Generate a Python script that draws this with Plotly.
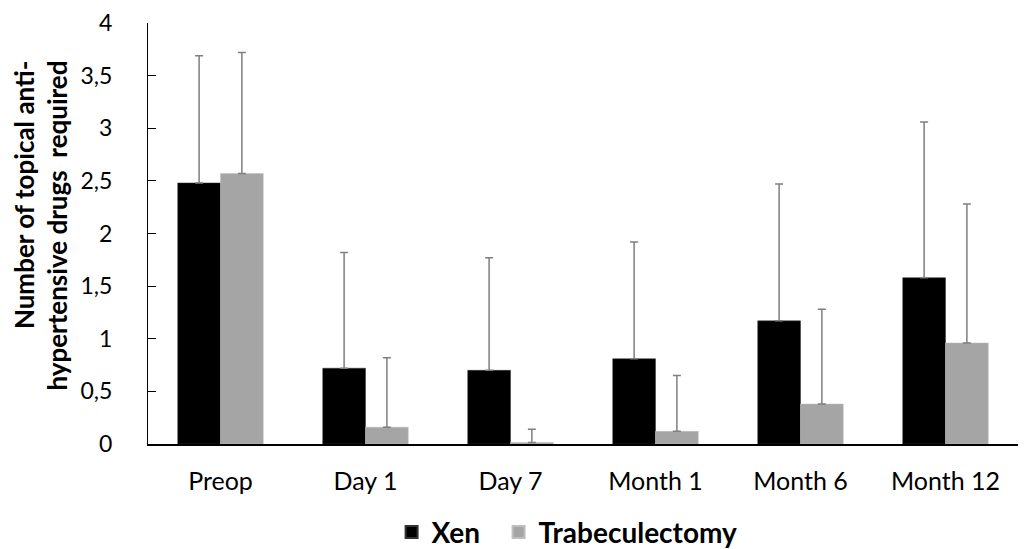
import plotly.graph_objects as go

categories = ["Preop", "Day 1", "Day 7", "Month 1", "Month 6", "Month 12"]
xen_mean = [2.48, 0.72, 0.70, 0.81, 1.17, 1.58]
xen_sd = [1.21, 1.10, 1.07, 1.11, 1.30, 1.48]
trab_mean = [2.57, 0.16, 0.015, 0.12, 0.38, 0.96]
trab_sd = [1.15, 0.66, 0.125, 0.53, 0.90, 1.32]
y_ticks = [0, 0.5, 1, 1.5, 2, 2.5, 3, 3.5, 4]
y_title = "Number of topical anti-<br>hypertensive drugs  required"

FONT = "Lato"

fig = go.Figure()
fig.add_trace(go.Bar(
    name="Xen&nbsp;&nbsp;", x=categories, y=xen_mean,
    marker=dict(color="#000000", line=dict(color="#333333", width=0.5)),
    error_y=dict(type="data", symmetric=False, array=xen_sd,
                 arrayminus=[0] * len(xen_sd), color="#7f7f7f",
                 thickness=1.5, width=4),
))
fig.add_trace(go.Bar(
    name="Trabeculectomy", x=categories, y=trab_mean,
    marker=dict(color="#a5a5a5", line=dict(color="#bfbfbf", width=0.5)),
    error_y=dict(type="data", symmetric=False, array=trab_sd,
                 arrayminus=[0] * len(trab_sd), color="#7f7f7f",
                 thickness=1.5, width=4),
))

fig.update_layout(
    width=1022, height=541,
    margin=dict(l=140, r=12, t=15, b=105, autoexpand=False),
    paper_bgcolor="white", plot_bgcolor="white",
    barmode="group", bargap=0.41, bargroupgap=0,
    separators=",.",
    font=dict(family=FONT, color="#000000"),
    showlegend=True,
    legend=dict(orientation="h", x=0.28, xanchor="left",
                yref="paper", y=-0.21, yanchor="middle",
                font=dict(family=FONT, size=28, color="#000000", weight="bold"),
                itemsizing="constant", traceorder="normal", itemwidth=30),
)
fig.update_xaxes(
    showline=True, linecolor="#000000", linewidth=1.5,
    ticks="", showgrid=False, automargin=False, ticklabelstandoff=14,
    tickfont=dict(family=FONT, size=25, color="#000000"),
)
fig.update_yaxes(
    range=[0, 4], tickvals=y_ticks, automargin=False,
    showline=True, linecolor="#000000", linewidth=1.2,
    ticks="inside", ticklen=8, tickcolor="#000000", tickwidth=1.2,
    showgrid=False, zeroline=False, ticklabelstandoff=30,
    ticklabeloverflow="allow",
    tickfont=dict(family=FONT, size=23, color="#000000"),
)
fig.add_annotation(
    text=y_title, xref="paper", yref="paper", x=-0.124, y=0.519,
    xanchor="center", yanchor="middle", textangle=-90, align="right",
    showarrow=False,
    font=dict(family=FONT, size=26, color="#000000", weight="bold"),
)

fig.write_html("out.html")
